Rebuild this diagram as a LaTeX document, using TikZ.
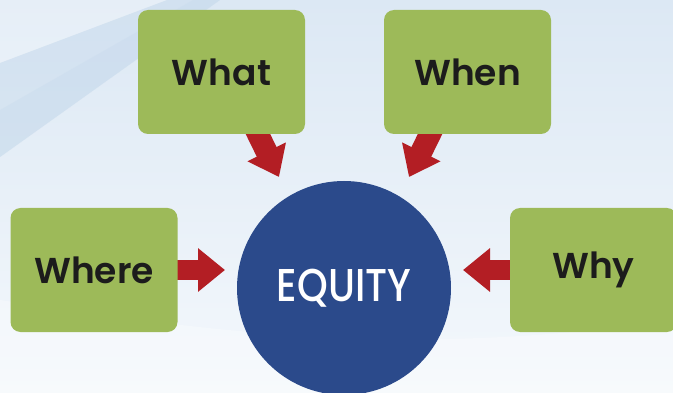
\documentclass[tikz,border=0pt]{standalone}
\usepackage{fontspec}
\setmainfont{Poppins}
\newfontfamily\boxfont{Poppins SemiBold}
\newfontfamily\eqfont{Poppins Medium}[FakeStretch=0.85]
\usetikzlibrary{arrows.meta,shapes.geometric,calc,fadings}
\definecolor{boxgreen}{HTML}{9DBA59}
\definecolor{eqblue}{HTML}{2B4A8B}
\definecolor{arrred}{HTML}{B31E24}
\definecolor{txtdark}{HTML}{1C1C1C}
\definecolor{bgtop}{HTML}{DCE8F4}
\definecolor{bgbot}{HTML}{F4F8FC}
\definecolor{bandcol}{HTML}{C4D8EB}
\pgfdeclarelayer{bg}
\pgfdeclarelayer{arrows}
\pgfsetlayers{bg,arrows,main}
\tikzset{
  qbox/.style={draw=none, fill=boxgreen, rounded corners=10pt, minimum width=167pt, minimum height=124pt, inner sep=0pt, font=\boxfont\fontsize{36}{40}\selectfont, text=txtdark},
  eqcircle/.style={circle, fill=eqblue, minimum size=214pt, inner sep=0pt, font=\eqfont\fontsize{46}{50}\selectfont, text=white},
  fatdiag/.style={draw=arrred, line width=22pt, -{Triangle[width=41pt,length=28pt]}},
  fathoriz/.style={draw=arrred, line width=20pt, -{Triangle[width=42pt,length=27pt]}}
}
\begin{document}
\begin{tikzpicture}[x=1pt,y=-1pt]
\useasboundingbox (0,0) rectangle (673,393);
\begin{pgfonlayer}{bg}
  \shade[top color=bgtop, bottom color=bgbot] (0,0) rectangle (673,393);
  \fill[white, opacity=0.3] (0,63) -- (0,0) -- (167,0) -- cycle;
  \fill[bandcol, opacity=0.4] (0,63) -- (167,0) -- (220,0) -- (0,157) -- cycle;
  \fill[bandcol, opacity=0.3] (0,110) -- (193,0) -- (220,0) -- (0,157) -- cycle;
  \fill[white, opacity=0.3] (0,393) -- (0,300) .. controls (200,330) and (400,360) .. (673,320) -- (673,393) -- cycle;
\end{pgfonlayer}
\node[qbox] (what) at (221.5,72) {What};
\node[qbox] (when) at (467.5,72) {When};
\node[qbox] (where) at (94,270) {Where};
\node[qbox] (why) at (593.5,270) {Why};
\node[eqcircle] (equity) at (344,288) {EQUITY};
\coordinate (whatStart) at (253.5,125);
\coordinate (whatTip) at (279,177);
\coordinate (whenStart) at (434.5,125);
\coordinate (whenTip) at (409,177);
\coordinate (whereStart) at (170,270);
\coordinate (whereTip) at (225,270);
\coordinate (whyStart) at (518,270);
\coordinate (whyTip) at (463,270);
\begin{pgfonlayer}{arrows}
  \draw[fatdiag] (whatStart) -- (whatTip);
  \draw[fatdiag] (whenStart) -- (whenTip);
  \draw[fathoriz] (whereStart) -- (whereTip);
  \draw[fathoriz] (whyStart) -- (whyTip);
\end{pgfonlayer}
\end{tikzpicture}
\end{document}
